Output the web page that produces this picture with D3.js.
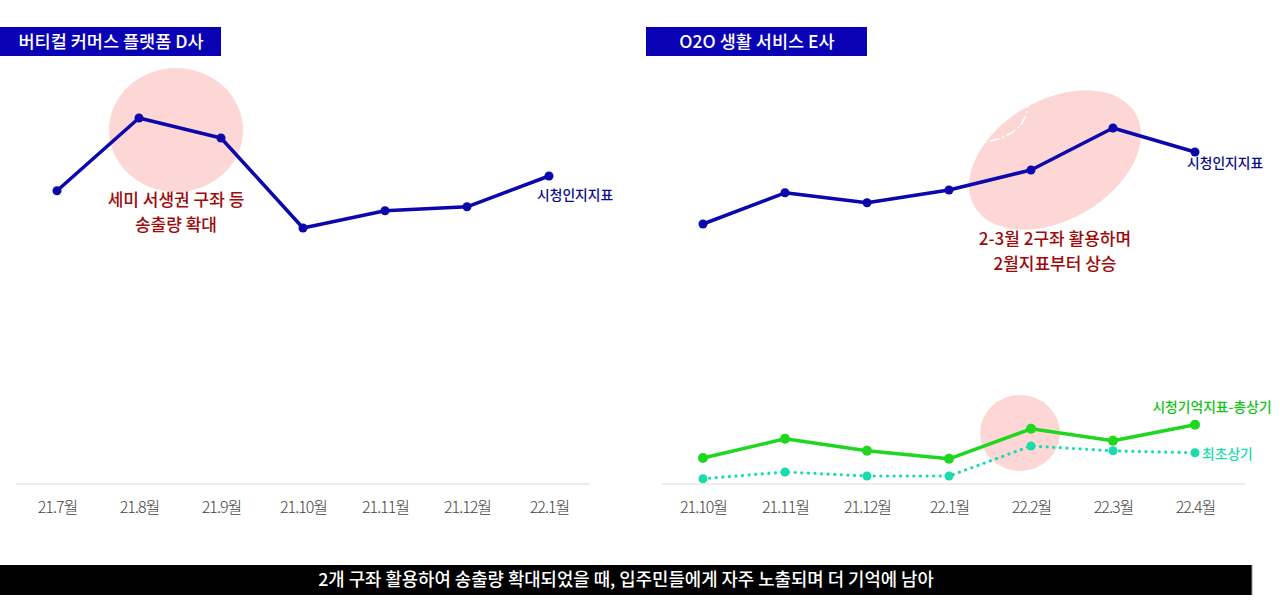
<!DOCTYPE html>
<html>
<head>
<meta charset="utf-8">
<script src="https://cdn.jsdelivr.net/npm/d3@7"></script>
<style>
  body { margin: 0; background: #fff; }
  svg { display: block; font-family: "Noto Sans CJK KR", "Noto Sans", sans-serif; }
</style>
</head>
<body>
<svg id="chart"></svg>
<script>
// left panel data
let leftMonths = ['21.7월', '21.8월', '21.9월', '21.10월', '21.11월', '21.12월', '22.1월']
let leftRecog = [7.33, 9.15, 8.65, 6.4, 6.83, 6.93, 7.7]

// right panel data
let rightMonths = ['21.10월', '21.11월', '21.12월', '22.1월', '22.2월', '22.3월', '22.4월']
let rightRecog = [6.5, 7.28, 7.03, 7.35, 7.85, 8.9, 8.3]
let rightTotal = [0.65, 1.13, 0.83, 0.63, 1.38, 1.08, 1.48]
let rightFirst = [0.13, 0.3, 0.2, 0.2, 0.95, 0.83, 0.78]

let W = 1280, H = 602
let svg = d3.select('#chart').attr('width', W).attr('height', H)

let blue = '#0c06ad'
let green = '#1ed71e'
let teal = '#19dcae'
let pink = '#fdd6d6'
let red = '#a00a0a'

let y = d3.scaleLinear().domain([0, 10]).range([484, 84])

let xl = d3.scalePoint().domain(leftMonths).range([16, 590]).padding(0.5)
let xr = d3.scalePoint().domain(rightMonths).range([662, 1236]).padding(0.5)

// highlight shapes (behind lines)
svg.append('ellipse')
  .attr('cx', 176).attr('cy', 130).attr('rx', 67).attr('ry', 62)
  .attr('fill', pink)

svg.append('ellipse')
  .attr('cx', 1055).attr('cy', 160).attr('rx', 93).attr('ry', 60)
  .attr('transform', 'rotate(-30,1055,160)')
  .attr('fill', pink)
// small white dashed arc artifact
svg.append('path')
  .attr('d', 'M1028,98 Q1030,138 977,143')
  .attr('fill', 'none').attr('stroke', '#fff').attr('stroke-width', 1.5)
  .attr('stroke-dasharray', '10 3 2 3')

svg.append('ellipse')
  .attr('cx', 1020).attr('cy', 433).attr('rx', 40).attr('ry', 38)
  .attr('fill', pink)

// title boxes
function titleBox(x, label) {
  svg.append('rect').attr('x', x).attr('y', 27).attr('width', 221).attr('height', 29)
    .attr('fill', '#0a00b4')
  svg.append('text').attr('x', x + 111).attr('y', 42).attr('dy', '0.35em')
    .attr('text-anchor', 'middle').attr('fill', '#fff')
    .attr('font-size', 17.5).attr('font-weight', 500)
    .text(label)
}
titleBox(0, '버티컬 커머스 플랫폼 D사')
titleBox(646, 'O2O 생활 서비스 E사')

// axes
function drawAxis(x, x0, x1) {
  svg.append('line').attr('x1', x0).attr('x2', x1).attr('y1', 484).attr('y2', 484)
    .attr('stroke', '#dcdcdc').attr('stroke-width', 1.2)
  let g = svg.append('g').attr('transform', 'translate(0,484)')
    .call(d3.axisBottom(x).tickSize(0).tickPadding(18))
  g.select('.domain').remove()
  g.selectAll('text').attr('font-size', 16).attr('fill', '#444')
    .attr('font-family', '"Noto Sans CJK KR", sans-serif').attr('font-weight', 300)
    .attr('letter-spacing', '-1px')
}
drawAxis(xl, 16, 590)
drawAxis(xr, 662, 1245)

// series
function series(x, months, vals, color, opts) {
  let line = d3.line().x((d, i) => x(months[i])).y(d => y(d))
  let p = svg.append('path').datum(vals).attr('d', line)
    .attr('fill', 'none').attr('stroke', color).attr('stroke-width', opts.w)
    .attr('stroke-linejoin', 'round')
  if (opts.dotted) {
    p.attr('stroke-dasharray', '0.1 6.5').attr('stroke-linecap', 'round')
  }
  svg.append('g').selectAll('circle').data(vals).enter().append('circle')
    .attr('cx', (d, i) => x(months[i])).attr('cy', d => y(d))
    .attr('r', opts.r).attr('fill', color)
}
series(xl, leftMonths, leftRecog, blue, {w: 3.5, r: 4.5})
series(xr, rightMonths, rightRecog, blue, {w: 3.5, r: 4.5})
series(xr, rightMonths, rightFirst, teal, {w: 3.2, r: 4.5, dotted: true})
series(xr, rightMonths, rightTotal, green, {w: 3.5, r: 5})

// series labels
function label(x, yy, txt, color, anchor) {
  svg.append('text').attr('x', x).attr('y', yy).attr('dy', '0.35em')
    .attr('text-anchor', anchor || 'start').attr('fill', color)
    .attr('font-size', 13.8).attr('font-weight', 500)
    .text(txt)
}
label(xl(leftMonths[6]) - 12, y(leftRecog[6]) + 19, '시청인지지표', '#0a0a8c')
label(xr(rightMonths[6]) - 8, y(rightRecog[6]) + 11, '시청인지지표', '#0a0a8c')
label(xr(rightMonths[6]) + 17, y(rightTotal[6]) - 18, '시청기억지표-총상기', '#12c412', 'middle')
label(xr(rightMonths[6]) + 7, y(rightFirst[6]) + 1, '최초상기', teal)

// annotations
function note(cx, cy, lines) {
  lines.forEach((t, i) => {
    svg.append('text').attr('x', cx).attr('y', cy + i * 24.8).attr('dy', '0.35em')
      .attr('text-anchor', 'middle').attr('fill', red)
      .attr('font-size', 17).attr('font-weight', 500)
      .text(t)
  })
}
note(176, 200, ['세미 서생권 구좌 등', '송출량 확대'])
note(1055, 239, ['2-3월 2구좌 활용하며', '2월지표부터 상승'])

// bottom banner
svg.append('rect').attr('x', 0).attr('y', 565).attr('width', 1252).attr('height', 30).attr('fill', '#000')
svg.append('line').attr('x1', 1252).attr('x2', 1252).attr('y1', 565).attr('y2', 595)
  .attr('stroke', '#999').attr('stroke-width', 1)
svg.append('text').attr('x', 626).attr('y', 580).attr('dy', '0.35em')
  .attr('text-anchor', 'middle').attr('fill', '#fff')
  .attr('font-size', 17.8).attr('font-weight', 500)
  .text('2개 구좌 활용하여 송출량 확대되었을 때, 입주민들에게 자주 노출되며 더 기억에 남아')
</script>
</body>
</html>
